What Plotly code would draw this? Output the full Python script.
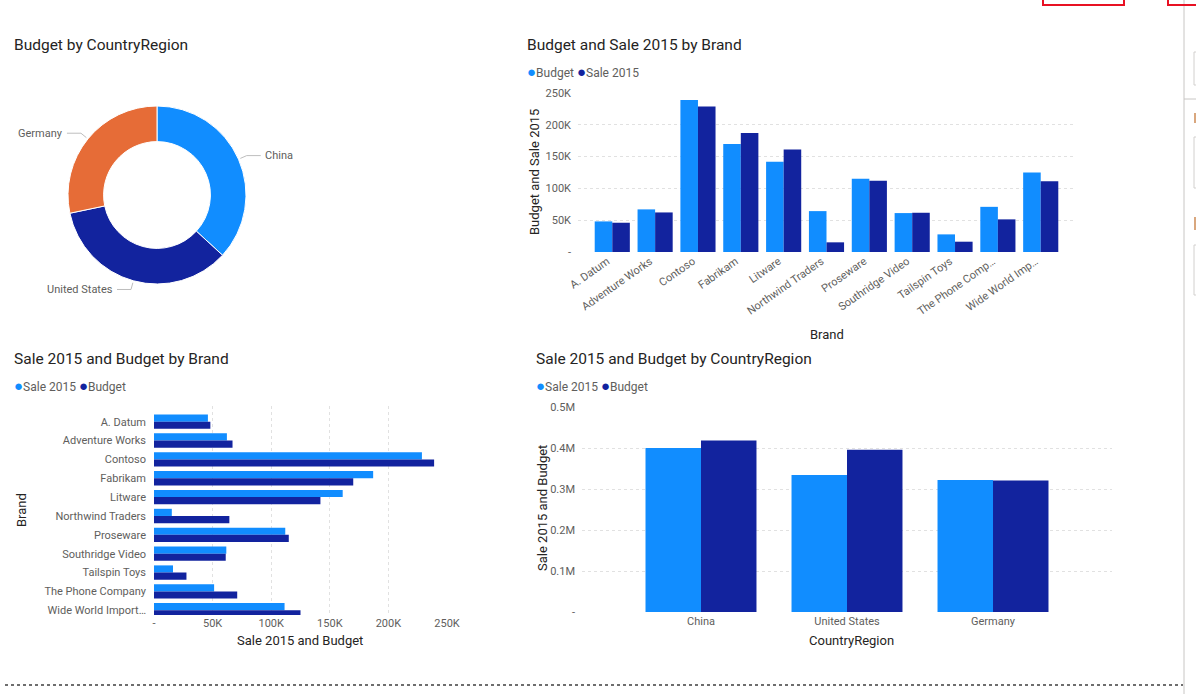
import math

import plotly.graph_objects as go

# ---- data ----
countries = ["China", "United States", "Germany"]
country_budget = [418000, 396000, 321000]
country_sale = [400000, 334000, 322000]

brands = [
    "A. Datum", "Adventure Works", "Contoso", "Fabrikam", "Litware",
    "Northwind Traders", "Proseware", "Southridge Video", "Tailspin Toys",
    "The Phone Company", "Wide World Importers",
]
brand_labels_col = [
    "A. Datum", "Adventure Works", "Contoso", "Fabrikam", "Litware",
    "Northwind Traders", "Proseware", "Southridge Video", "Tailspin Toys",
    "The Phone Comp…", "Wide World Imp…",
]
brand_labels_bar = [
    "A. Datum", "Adventure Works", "Contoso", "Fabrikam", "Litware",
    "Northwind Traders", "Proseware", "Southridge Video", "Tailspin Toys",
    "The Phone Company", "Wide World Import…",
]
brand_budget = [48100, 67000, 239000, 170000, 142000, 64300, 115000, 61200, 27700, 71000, 125000]
brand_sale = [46000, 62200, 228600, 187000, 161000, 15200, 112000, 61700, 16200, 51300, 111400]

k_ticks = [0, 50000, 100000, 150000, 200000, 250000]
k_labels = ["-", "50K", "100K", "150K", "200K", "250K"]
m_ticks = [0, 100000, 200000, 300000, 400000, 500000]
m_labels = ["-", "0.1M", "0.2M", "0.3M", "0.4M", "0.5M"]

# ---- look ----
W, H = 1196, 694
LIGHT = "#118DFF"
NAVY = "#12239E"
ORANGE = "#E66C37"
TITLE_C = "#252423"
TICK_C = "#605E5C"
GRID_C = "#E1E1E1"
FONT = "Segoe UI, Roboto, sans-serif"


def fx(x):
    # screen pixel -> paper fraction
    return x / W


def fy(y):
    return 1 - y / H


def axis_common(**kw):
    d = dict(showline=False, zeroline=False, ticks="", fixedrange=True, automargin=False,
             tickfont=dict(size=11, color=TICK_C, family=FONT))
    d.update(kw)
    return d


fig = go.Figure()

# -- donut: Budget by CountryRegion
cx, cy, r_out = 157, 195, 89
fig.add_trace(go.Pie(
    labels=countries, values=country_budget, hole=0.6, sort=False,
    direction="clockwise", rotation=0, textinfo="none", hoverinfo="label+value",
    marker=dict(colors=[LIGHT, NAVY, ORANGE], line=dict(color="white", width=1)),
    domain=dict(x=[fx(cx - r_out), fx(cx + r_out)], y=[fy(cy + r_out), fy(cy - r_out)]),
    showlegend=False,
))

# -- column chart: Budget and Sale 2015 by Brand
fig.add_trace(go.Bar(x=brands, y=brand_budget, name="Budget", marker_color=LIGHT,
                     width=0.41, offset=-0.41, xaxis="x", yaxis="y", showlegend=False))
fig.add_trace(go.Bar(x=brands, y=brand_sale, name="Sale 2015", marker_color=NAVY,
                     width=0.41, offset=0, xaxis="x", yaxis="y", showlegend=False))

# -- bar chart: Sale 2015 and Budget by Brand
fig.add_trace(go.Bar(y=brands, x=brand_sale, name="Sale 2015", orientation="h", marker_color=LIGHT,
                     width=0.38, offset=-0.38, xaxis="x2", yaxis="y2", showlegend=False))
fig.add_trace(go.Bar(y=brands, x=brand_budget, name="Budget", orientation="h", marker_color=NAVY,
                     width=0.38, offset=0, xaxis="x2", yaxis="y2", showlegend=False))

# -- column chart: Sale 2015 and Budget by CountryRegion
fig.add_trace(go.Bar(x=countries, y=country_sale, name="Sale 2015", marker_color=LIGHT,
                     width=0.38, offset=-0.38, xaxis="x3", yaxis="y3", showlegend=False))
fig.add_trace(go.Bar(x=countries, y=country_budget, name="Budget", marker_color=NAVY,
                     width=0.38, offset=0, xaxis="x3", yaxis="y3", showlegend=False))

grid = dict(showgrid=True, gridcolor=GRID_C, griddash="dot", gridwidth=1)

fig.update_layout(
    template="none",
    width=W, height=H, margin=dict(l=0, r=0, t=0, b=0, pad=0, autoexpand=False),
    paper_bgcolor="white", plot_bgcolor="white", barmode="overlay", showlegend=False,
    font=dict(family=FONT, color=TITLE_C),
    xaxis=axis_common(domain=[fx(578), fx(1075)], range=[-0.8, 10.8], anchor="y",
                      tickmode="array", tickvals=brands, ticktext=brand_labels_col,
                      tickangle=-35, ticklabelshift=-5, showgrid=False),
    yaxis=axis_common(domain=[fy(252), fy(93)], range=[0, 250000], anchor="x",
                      tickvals=k_ticks, ticktext=k_labels, ticklabelstandoff=6, **grid),
    xaxis2=axis_common(domain=[fx(154), fx(447)], range=[0, 250000], anchor="y2",
                       tickvals=k_ticks, ticktext=k_labels, **grid),
    yaxis2=axis_common(domain=[fy(615), fy(406)], range=[10.25, -0.83], anchor="x2",
                       tickmode="array", tickvals=brands, ticktext=brand_labels_bar,
                       ticklabelstandoff=7, showgrid=False),
    xaxis3=axis_common(domain=[fx(582), fx(1112)], range=[-0.815, 2.815], anchor="y3",
                       ticklabelstandoff=1, showgrid=False),
    yaxis3=axis_common(domain=[fy(612), fy(407)], range=[0, 500000], anchor="x3",
                       tickvals=m_ticks, ticktext=m_labels, ticklabelstandoff=6, **grid),
)

ann = []


def text(x, y, s, size=11, color=TICK_C, xanchor="left", angle=0):
    ann.append(dict(x=fx(x), y=fy(y), xref="paper", yref="paper", text=s, showarrow=False,
                    xanchor=xanchor, yanchor="middle", textangle=angle, borderpad=0,
                    font=dict(size=size, color=color, family=FONT)))


def legend(x, y, items):
    s = " ".join(f"<span style='color:{c};font-size:15px'>●</span>{n}" for n, c in items)
    text(x, y, s, size=12, color=TICK_C)


# titles
text(13, 45, "Budget by CountryRegion", size=15.5, color=TITLE_C)
text(526, 45, "Budget and Sale 2015 by Brand", size=15.5, color=TITLE_C)
text(13, 359, "Sale 2015 and Budget by Brand", size=15.5, color=TITLE_C)
text(535, 359, "Sale 2015 and Budget by CountryRegion", size=15.5, color=TITLE_C)

# legends
legend(526, 72, [("Budget", LIGHT), ("Sale 2015", NAVY)])
legend(13, 386, [("Sale 2015", LIGHT), ("Budget", NAVY)])
legend(535, 386, [("Sale 2015", LIGHT), ("Budget", NAVY)])

# axis titles
text(827, 335, "Brand", size=13, color=TITLE_C, xanchor="center")
text(534, 172, "Budget and Sale 2015", size=13, color=TITLE_C, xanchor="center", angle=-90)
text(300, 640, "Sale 2015 and Budget", size=13, color=TITLE_C, xanchor="center")
text(21, 510, "Brand", size=13, color=TITLE_C, xanchor="center", angle=-90)
text(851, 640, "CountryRegion", size=13, color=TITLE_C, xanchor="center")
text(542, 508, "Sale 2015 and Budget", size=13, color=TITLE_C, xanchor="center", angle=-90)

shapes = []

# donut leader lines + labels, placed at each slice's mid angle
total = sum(country_budget)
acc = 0
for name, v in zip(countries, country_budget):
    mid = (acc + v / 2) / total * 2 * math.pi
    acc += v
    sx, sy = cx + (r_out + 2) * math.sin(mid), cy - (r_out + 2) * math.cos(mid)
    ex, ey = cx + (r_out + 9) * math.sin(mid), cy - (r_out + 9) * math.cos(mid)
    side = 1 if math.sin(mid) >= 0 else -1
    hx = ex + side * 14
    shapes.append(dict(type="path", xref="paper", yref="paper",
                       path=f"M {fx(sx)},{fy(sy)} L {fx(ex)},{fy(ey)} L {fx(hx)},{fy(ey)}",
                       line=dict(color="#BEBEBE", width=1)))
    text(hx + side * 3, ey, name, size=11, color=TICK_C,
         xanchor="left" if side > 0 else "right")

# report canvas chrome
shapes += [
    dict(type="line", xref="paper", yref="paper", x0=fx(5), x1=fx(1183), y0=fy(685), y1=fy(685),
         line=dict(color="#6E6E6E", width=2, dash="dot")),
    dict(type="line", xref="paper", yref="paper", x0=fx(1184), x1=fx(1184), y0=0, y1=1,
         line=dict(color="#C8C6C4", width=1)),
    dict(type="line", xref="paper", yref="paper", x0=fx(1184), x1=1, y0=fy(99), y1=fy(99),
         line=dict(color="#C8C6C4", width=1)),
    dict(type="rect", xref="paper", yref="paper", x0=fx(1043), x1=fx(1124), y0=fy(5), y1=fy(-4),
         line=dict(color="#E81123", width=2)),
    dict(type="rect", xref="paper", yref="paper", x0=fx(1168), x1=fx(1200), y0=fy(5), y1=fy(-4),
         line=dict(color="#E81123", width=2)),
]
for y0, y1 in [(52, 85), (137, 188), (245, 295)]:
    shapes.append(dict(type="rect", xref="paper", yref="paper", x0=fx(1194), x1=1.01,
                       y0=fy(y1), y1=fy(y0), line=dict(color="#D2D0CE", width=1)))
for y0, y1 in [(113, 123), (217, 230)]:
    shapes.append(dict(type="rect", xref="paper", yref="paper", x0=fx(1194), x1=fx(1197),
                       y0=fy(y1), y1=fy(y0), line=dict(width=0), fillcolor="#D9A77E"))

fig.update_layout(annotations=ann, shapes=shapes)

fig.write_html("out.html", config={"displayModeBar": False},
               post_script="document.body.style.margin='0';document.body.style.overflow='hidden';")
